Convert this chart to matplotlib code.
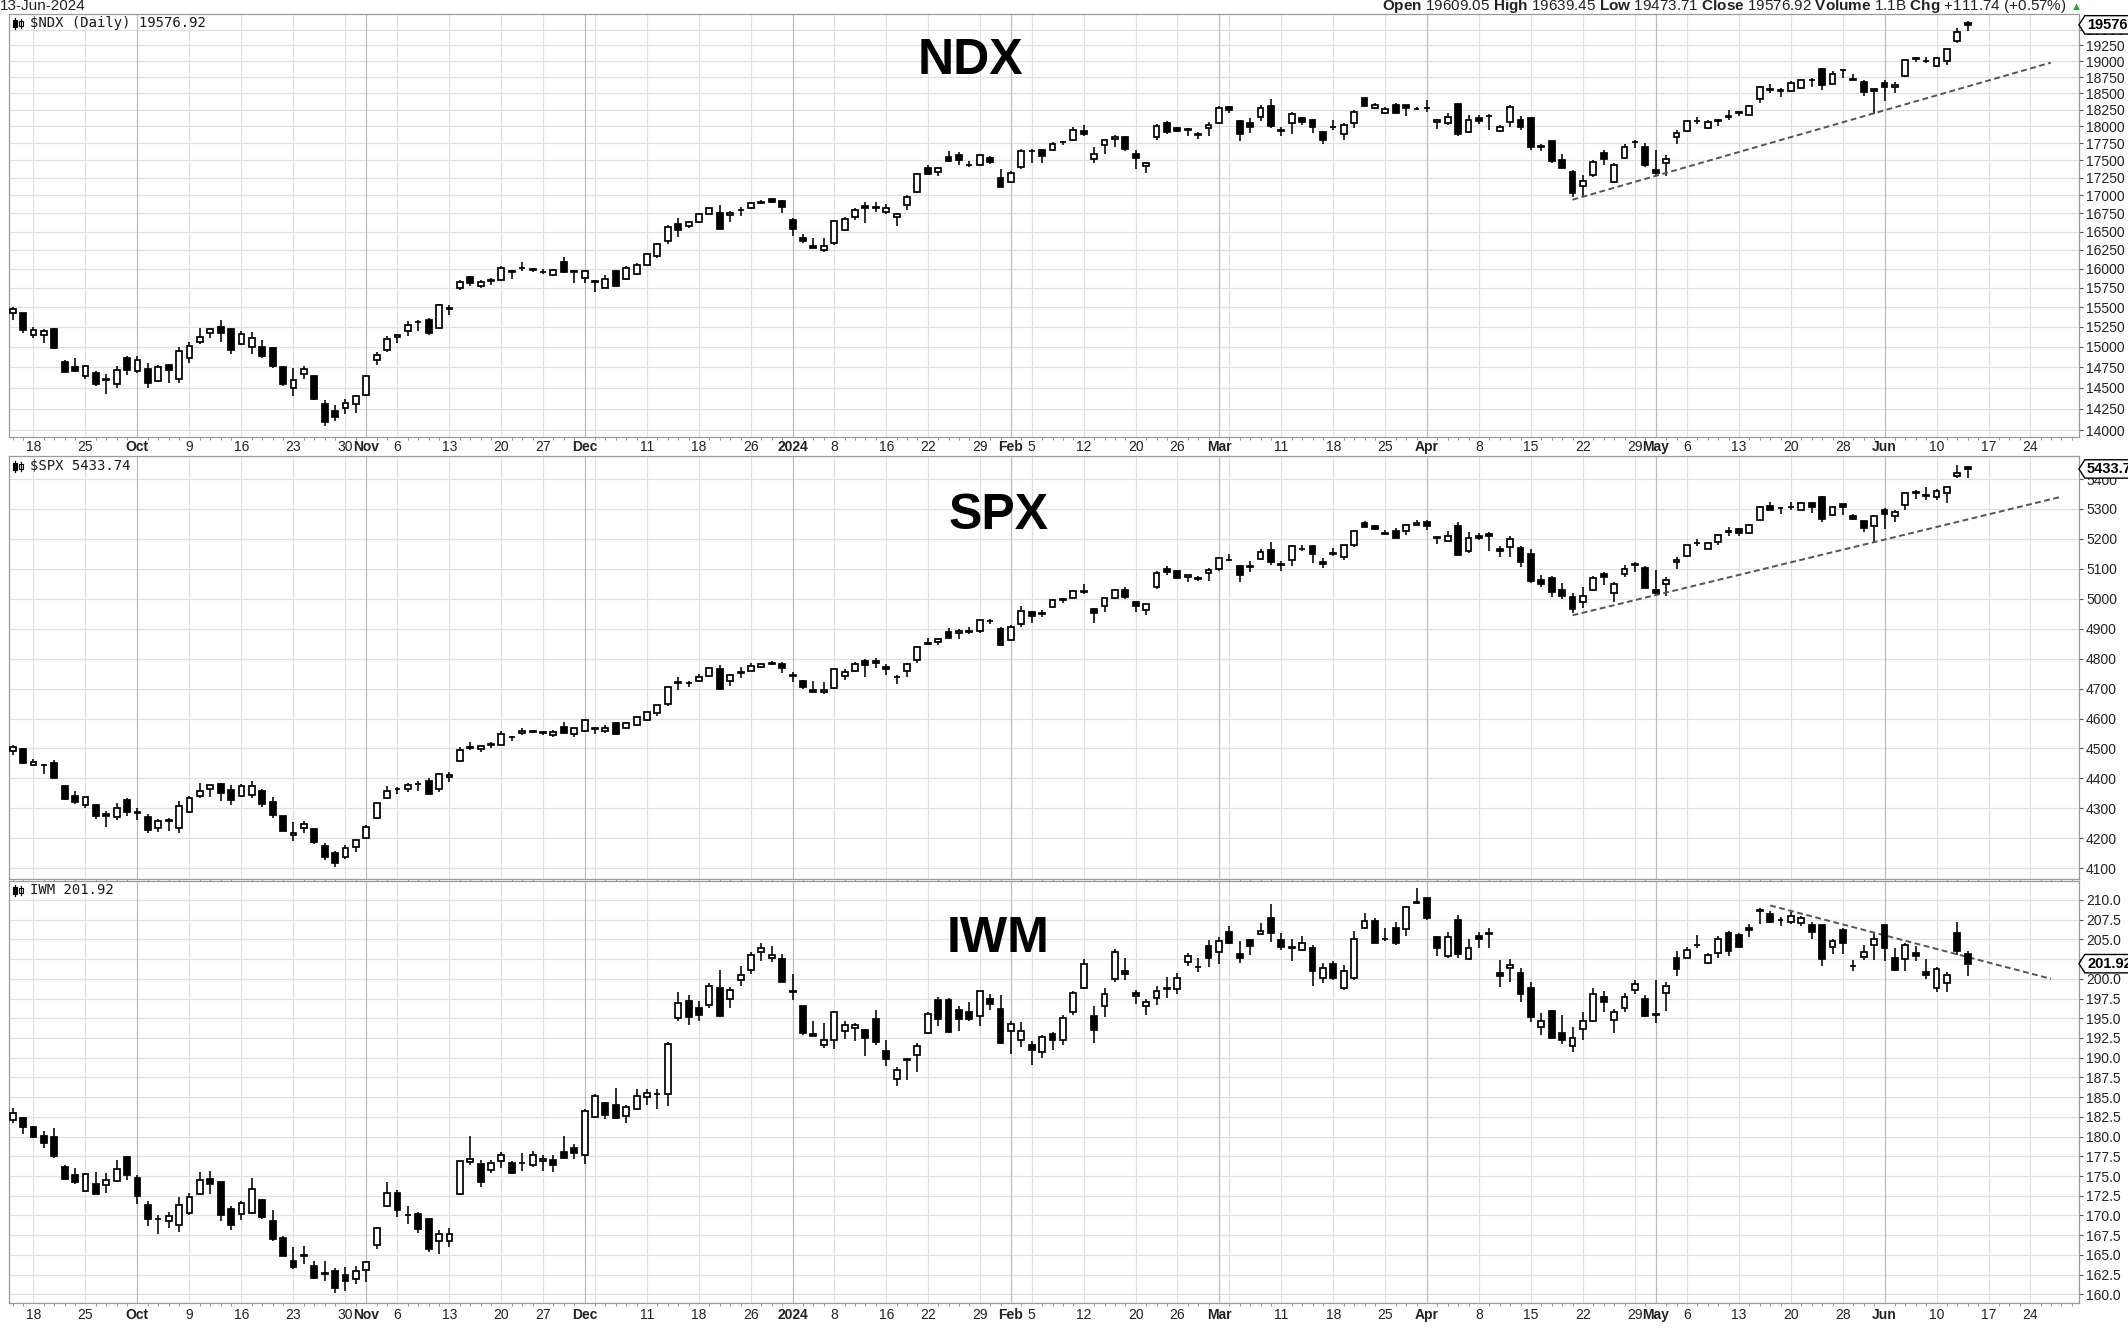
import numpy as np
import pandas as pd
import matplotlib

matplotlib.use('Agg')
import matplotlib.pyplot as plt
from matplotlib.lines import Line2D
from matplotlib.patches import Rectangle
from matplotlib.path import Path
from matplotlib.ticker import NullLocator
from matplotlib.transforms import Affine2D, blended_transform_factory

plt.rcParams['font.family'] = ['Liberation Sans', 'DejaVu Sans']
plt.rcParams['mathtext.fontset'] = 'custom'
plt.rcParams['mathtext.rm'] = 'Liberation Sans'
plt.rcParams['mathtext.bf'] = 'Liberation Sans:bold'

# trading calendar: 14-Sep-2023 .. 13-Jun-2024 traded, empty slots up to 28-Jun-2024
FIRST_DAY = '2023-09-14'
LAST_SLOT = '2024-06-28'
HOLIDAYS = ['2023-11-23', '2023-12-25', '2024-01-01', '2024-01-15',
            '2024-02-19', '2024-03-29', '2024-05-27', '2024-06-19']

# ---------------- $NDX daily OHLC ----------------
ndx_open = [
    15425, 15420, 15150, 15150, 15220, 14810, 14755, 14640, 14680, 14600, 14540, 14860,
    14700, 14730, 14580, 14770, 14610, 14860, 15060, 15170, 15250, 15220, 15030, 14990,
    15000, 14985, 14750, 14490, 14665, 14635, 14300, 14220, 14255, 14300,
    14410, 14830, 14960, 15125, 15190, 15305, 15330, 15240, 15490, 15745, 15885, 15770,
    15840, 15850, 15975, 16010, 15985, 15960, 15920, 16090, 15975,
    15880, 15840, 15745, 15965, 15865, 15930, 16045, 16175, 16375, 16600, 16575, 16625,
    16745, 16755, 16720, 16790, 16820, 16900, 16955, 16915,
    16655, 16405, 16300, 16255, 16340, 16525, 16700, 16850, 16830, 16770, 16700, 16870,
    17045, 17390, 17335, 17550, 17580, 17440, 17430, 17535, 17240,
    17195, 17400, 17640, 17655, 17655, 17770, 17795, 17935, 17520, 17720, 17810, 17845,
    17590, 17415, 17835, 18045, 17970, 17955, 17880, 17980,
    18055, 18290, 18075, 18055, 18140, 18300, 17945, 18045, 18125, 18090, 17920, 17990,
    17880, 18055, 18420, 18280, 18205, 18325, 18315, 18265,
    18275, 18065, 18045, 18330, 17920, 18125, 18155, 17935, 18065, 18090, 18125, 17690,
    17780, 17510, 17330, 17140, 17285, 17610, 17195, 17540, 17765, 17700,
    17365, 17460, 17845, 17930, 18080, 17980, 18085, 18140, 18215, 18175, 18410, 18565,
    18540, 18540, 18585, 18700, 18880, 18645, 18860, 18720, 18675, 18560,
    18650, 18590, 18770, 19040, 19000, 18925, 18995, 19320, 19609.05]
ndx_high = [
    15500, 15430, 15250, 15215, 15240, 14840, 14865, 14775, 14700, 14660, 14760, 14890,
    14880, 14800, 14780, 14790, 15000, 15060, 15230, 15240, 15330, 15235, 15190, 15180,
    15085, 15000, 14755, 14740, 14760, 14640, 14350, 14290, 14360, 14410,
    14655, 14940, 15130, 15160, 15320, 15330, 15365, 15535, 15525, 15850, 15910, 15850,
    15880, 16040, 15985, 16095, 16010, 15990, 15990, 16160, 15985,
    15980, 15845, 15915, 15980, 16040, 16075, 16215, 16350, 16590, 16680, 16650, 16755,
    16830, 16870, 16785, 16840, 16910, 16935, 16970, 16930,
    16680, 16460, 16410, 16410, 16655, 16700, 16820, 16905, 16905, 16880, 16760, 17000,
    17325, 17440, 17400, 17640, 17615, 17485, 17595, 17560, 17370,
    17345, 17670, 17660, 17670, 17765, 17790, 17995, 18020, 17700, 17805, 17870, 17860,
    17650, 17475, 18030, 18080, 17995, 17980, 17910, 18065,
    18305, 18300, 18090, 18125, 18315, 18415, 17995, 18215, 18140, 18115, 17930, 18100,
    18045, 18240, 18450, 18355, 18290, 18350, 18320, 18290,
    18395, 18115, 18205, 18345, 18170, 18165, 18185, 18025, 18315, 18160, 18140, 17735,
    17790, 17595, 17355, 17290, 17510, 17650, 17460, 17745, 17800, 17760,
    17650, 17575, 17950, 18095, 18140, 18095, 18110, 18240, 18230, 18325, 18615, 18640,
    18575, 18685, 18720, 18740, 18895, 18840, 18875, 18790, 18700, 18570,
    18700, 18670, 19020, 19060, 19060, 19060, 19195, 19530, 19639.45]
ndx_low = [
    15340, 15170, 15110, 15050, 14975, 14690, 14690, 14600, 14520, 14420, 14500, 14650,
    14680, 14500, 14570, 14560, 14560, 14800, 15030, 15110, 15060, 14910, 15020, 14910,
    14860, 14740, 14520, 14400, 14600, 14350, 14050, 14100, 14190, 14200,
    14400, 14770, 14940, 15045, 15130, 15190, 15150, 15230, 15400, 15720, 15770, 15740,
    15780, 15840, 15870, 15970, 15960, 15930, 15900, 15940, 15810,
    15810, 15690, 15740, 15765, 15855, 15920, 16030, 16140, 16330, 16430, 16550, 16610,
    16740, 16535, 16630, 16710, 16810, 16880, 16890, 16750,
    16440, 16340, 16270, 16220, 16320, 16510, 16660, 16620, 16775, 16735, 16570, 16800,
    17030, 17295, 17275, 17470, 17440, 17400, 17415, 17445, 17115,
    17170, 17380, 17460, 17460, 17630, 17720, 17780, 17850, 17465, 17600, 17700, 17640,
    17380, 17325, 17800, 17880, 17910, 17860, 17810, 17855,
    18040, 18200, 17780, 17905, 18075, 17980, 17860, 17890, 18020, 17900, 17735, 17945,
    17800, 17975, 18290, 18265, 18180, 18180, 18160, 18240,
    18215, 17960, 18020, 17850, 17900, 18040, 17945, 17920, 17990, 17945, 17650, 17640,
    17460, 17370, 16975, 16990, 17260, 17430, 17170, 17520, 17675, 17410,
    17290, 17280, 17740, 17920, 18030, 17960, 18010, 18090, 18150, 18165, 18350, 18510,
    18450, 18525, 18565, 18600, 18550, 18635, 18730, 18700, 18460, 18180,
    18380, 18510, 18755, 18980, 18975, 18910, 18935, 19290, 19473.71]
ndx_close = [
    15474, 15203, 15210, 15199, 14983, 14694, 14701, 14768, 14546, 14590, 14712, 14715,
    14830, 14560, 14755, 14710, 14945, 15010, 15120, 15225, 15170, 14965, 15160, 15110,
    14885, 14765, 14540, 14595, 14730, 14360, 14090, 14150, 14315, 14395,
    14645, 14900, 15090, 15140, 15275, 15315, 15170, 15525, 15480, 15820, 15815, 15830,
    15845, 16010, 15960, 16015, 15990, 15955, 15980, 15960, 15950,
    15965, 15830, 15865, 15775, 16010, 16055, 16195, 16325, 16565, 16525, 16625, 16735,
    16820, 16540, 16760, 16800, 16890, 16910, 16905, 16835,
    16540, 16368, 16283, 16300, 16640, 16665, 16800, 16830, 16840, 16830, 16735, 16975,
    17300, 17310, 17390, 17485, 17510, 17430, 17580, 17470, 17120,
    17325, 17640, 17630, 17570, 17745, 17765, 17950, 17880, 17590, 17795, 17845, 17670,
    17530, 17460, 18010, 17920, 17930, 17950, 17875, 18025,
    18275, 18240, 17880, 17990, 18280, 18000, 17935, 18190, 18070, 17995, 17800, 17995,
    18015, 18215, 18310, 18315, 18265, 18200, 18270, 18260,
    18280, 18100, 18140, 17880, 18100, 18080, 18160, 17990, 18290, 17990, 17700, 17705,
    17490, 17395, 17037, 17210, 17470, 17525, 17430, 17700, 17775, 17440,
    17321, 17525, 17900, 18080, 18075, 18070, 18100, 18150, 18200, 18300, 18590, 18555,
    18545, 18650, 18700, 18705, 18620, 18790, 18865, 18710, 18520, 18537,
    18598, 18632, 19010, 19030, 18995, 19045, 19185, 19465.18, 19576.92]
NDX_VOLUME = '1.1B'
ndx_trend_x = [150, 196]
ndx_trend_y = [16940, 18975]
ndx_ticks = list(range(14000, 19501, 250))

# ---------------- $SPX daily OHLC ----------------
spx_open = [
    4490, 4498, 4446, 4445, 4452, 4374, 4341, 4310, 4312, 4282, 4270, 4329,
    4285, 4270, 4233, 4260, 4234, 4289, 4340, 4366, 4380, 4360, 4342, 4345, 4357, 4321,
    4273, 4210, 4235, 4232, 4175, 4152, 4139, 4171,
    4201, 4268, 4334, 4364, 4366, 4383, 4391, 4364, 4406, 4459, 4505, 4497, 4510, 4511,
    4538, 4553, 4555, 4554, 4545, 4571, 4549,
    4559, 4564, 4557, 4586, 4569, 4577, 4594, 4618, 4647, 4721, 4720, 4725, 4743, 4764,
    4724, 4753, 4758, 4773, 4786, 4782,
    4745, 4725, 4697, 4690, 4703, 4741, 4759, 4792, 4791, 4772, 4739, 4760, 4796, 4853,
    4856, 4888, 4886, 4888, 4892, 4925, 4899,
    4862, 4916, 4957, 4950, 4973, 4996, 5004, 5026, 4967, 4976, 5004, 5031, 4989, 4964,
    5038, 5100, 5093, 5074, 5067, 5085,
    5098, 5131, 5110, 5109, 5132, 5164, 5114, 5130, 5168, 5176, 5123, 5154, 5139, 5181,
    5254, 5242, 5219, 5228, 5226, 5248,
    5257, 5204, 5194, 5244, 5158, 5211, 5217, 5167, 5172, 5171, 5149, 5064, 5068, 5031,
    5005, 4988, 5028, 5084, 5019, 5084, 5114, 5103,
    5029, 5050, 5123, 5142, 5187, 5168, 5189, 5225, 5234, 5221, 5263, 5310, 5303, 5305,
    5298, 5319, 5340, 5281, 5315, 5278, 5259, 5244,
    5297, 5278, 5314, 5357, 5343, 5341, 5353, 5409, 5441]
spx_high = [
    4511, 4500, 4466, 4449, 4462, 4375, 4357, 4338, 4313, 4292, 4318, 4333,
    4300, 4281, 4265, 4267, 4324, 4340, 4385, 4378, 4385, 4377, 4383, 4393, 4363, 4339,
    4276, 4255, 4259, 4232, 4183, 4156, 4177, 4195,
    4245, 4319, 4374, 4372, 4386, 4391, 4400, 4418, 4421, 4504, 4521, 4511, 4521, 4557,
    4542, 4568, 4560, 4560, 4562, 4588, 4569,
    4599, 4572, 4578, 4590, 4590, 4610, 4623, 4645, 4709, 4738, 4726, 4749, 4769, 4778,
    4748, 4772, 4784, 4785, 4793, 4789,
    4755, 4729, 4726, 4722, 4764, 4765, 4790, 4798, 4802, 4782, 4745, 4785, 4843, 4868,
    4868, 4903, 4898, 4906, 4929, 4931, 4906,
    4911, 4975, 4958, 4964, 4999, 5001, 5030, 5048, 4970, 5003, 5032, 5038, 4993, 4983,
    5094, 5111, 5097, 5080, 5077, 5104,
    5140, 5149, 5114, 5127, 5165, 5190, 5125, 5180, 5180, 5180, 5137, 5170, 5180, 5226,
    5261, 5246, 5229, 5235, 5249, 5264,
    5263, 5208, 5228, 5256, 5222, 5219, 5224, 5178, 5211, 5175, 5168, 5079, 5077, 5052,
    5019, 5038, 5076, 5089, 5057, 5114, 5124, 5110,
    5096, 5073, 5139, 5181, 5200, 5191, 5215, 5239, 5238, 5250, 5311, 5325, 5305, 5325,
    5324, 5323, 5342, 5311, 5315, 5282, 5260, 5280,
    5303, 5298, 5354, 5362, 5375, 5366, 5375, 5448, 5442]
spx_low = [
    4478, 4447, 4442, 4416, 4401, 4329, 4316, 4302, 4265, 4238, 4260, 4274,
    4260, 4216, 4220, 4225, 4219, 4284, 4333, 4338, 4325, 4311, 4338, 4334, 4305, 4269,
    4223, 4190, 4219, 4182, 4127, 4103, 4132, 4153,
    4197, 4266, 4334, 4347, 4355, 4359, 4346, 4353, 4389, 4456, 4495, 4487, 4500, 4510,
    4525, 4545, 4552, 4546, 4538, 4548, 4537,
    4554, 4547, 4551, 4546, 4566, 4575, 4592, 4607, 4643, 4694, 4704, 4721, 4743, 4697,
    4708, 4736, 4758, 4768, 4780, 4751,
    4722, 4700, 4687, 4683, 4700, 4730, 4756, 4740, 4769, 4747, 4714, 4740, 4785, 4844,
    4844, 4865, 4866, 4881, 4887, 4916, 4845,
    4859, 4907, 4918, 4939, 4969, 4987, 5001, 5016, 4920, 4956, 4999, 4999, 4956, 4946,
    5033, 5081, 5068, 5057, 5058, 5061,
    5094, 5127, 5056, 5091, 5128, 5114, 5092, 5108, 5160, 5118, 5102, 5144, 5131, 5172,
    5240, 5229, 5216, 5203, 5213, 5245,
    5229, 5184, 5194, 5146, 5153, 5197, 5160, 5138, 5138, 5107, 5052, 5039, 5007, 4998,
    4954, 4969, 5027, 5047, 4990, 5073, 5089, 5035,
    5013, 5011, 5101, 5140, 5178, 5165, 5180, 5209, 5211, 5217, 5263, 5296, 5283, 5297,
    5295, 5286, 5257, 5278, 5279, 5262, 5222, 5191,
    5234, 5257, 5297, 5335, 5331, 5331, 5320, 5404, 5404]
spx_close = [
    4505, 4450, 4454, 4444, 4402, 4330, 4320, 4337, 4274, 4275, 4300, 4288,
    4288, 4229, 4258, 4258, 4308, 4336, 4358, 4377, 4350, 4327, 4373, 4373, 4314, 4278,
    4224, 4217, 4248, 4186, 4137, 4117, 4167, 4194,
    4237, 4318, 4358, 4365, 4378, 4383, 4347, 4415, 4411, 4496, 4503, 4509, 4514, 4547,
    4538, 4557, 4559, 4551, 4555, 4551, 4568,
    4595, 4569, 4567, 4549, 4585, 4604, 4622, 4644, 4707, 4720, 4719, 4740, 4768, 4698,
    4746, 4755, 4775, 4782, 4783, 4770,
    4743, 4705, 4689, 4697, 4764, 4757, 4783, 4780, 4784, 4766, 4739, 4781, 4840, 4850,
    4865, 4869, 4894, 4891, 4928, 4925, 4846,
    4906, 4959, 4943, 4954, 4995, 4998, 5027, 5022, 4953, 5001, 5030, 5006, 4976, 4982,
    5087, 5089, 5070, 5078, 5070, 5096,
    5137, 5131, 5079, 5105, 5157, 5124, 5117, 5175, 5165, 5150, 5117, 5149, 5179, 5225,
    5241, 5234, 5218, 5204, 5248, 5254,
    5243, 5205, 5211, 5147, 5204, 5202, 5209, 5161, 5199, 5123, 5061, 5051, 5022, 5011,
    4967, 5010, 5070, 5072, 5048, 5100, 5116, 5036,
    5018, 5064, 5128, 5181, 5187, 5188, 5214, 5223, 5221, 5247, 5308, 5297, 5303, 5308,
    5321, 5307, 5268, 5305, 5306, 5267, 5235, 5278,
    5283, 5291, 5354, 5352, 5347, 5361, 5375, 5421, 5433.74]
spx_trend_x = [150, 197]
spx_trend_y = [4945, 5341]
spx_ticks = list(range(4100, 5401, 100))

# ---------------- IWM daily OHLC ----------------
iwm_open = [
    182.10, 182.40, 181.25, 180.10, 179.90, 176.20, 175.15, 173.10, 174.00, 173.90, 174.40, 177.35,
    174.80, 171.35, 169.55, 169.25, 168.85, 170.30, 172.70, 174.60, 174.20, 170.80, 170.20,
    170.30, 172.00, 169.35, 167.15, 164.20, 164.90, 163.60, 162.70, 162.95, 162.40, 162.00,
    163.05, 166.30, 171.25, 172.90, 170.05, 170.20, 169.50, 166.80, 166.75, 172.70, 176.75,
    176.50, 175.80, 176.90, 176.70, 176.60, 176.40, 176.90, 177.05, 178.00, 178.60,
    177.70, 182.50, 184.30, 184.00, 182.60, 183.50, 185.05, 185.35, 185.45, 195.00, 197.25,
    196.30, 196.70, 198.80, 197.40, 199.85, 201.15, 203.45, 202.65, 202.45,
    198.45, 196.50, 193.00, 191.65, 192.30, 193.40, 193.75, 193.55, 194.95, 190.80, 187.25,
    189.75, 190.30, 193.15, 197.35, 197.35, 196.05, 195.85, 195.25, 197.45, 196.20,
    193.35, 192.20, 191.55, 190.70, 193.05, 192.30, 195.85, 198.80, 195.25, 196.55, 200.00,
    201.05, 198.20, 196.60, 197.60, 198.75, 198.65, 202.10, 201.45, 204.10,
    203.35, 205.95, 203.20, 204.90, 205.65, 207.65, 204.90, 203.95, 203.70, 203.90, 200.10,
    201.90, 198.80, 200.10, 206.40, 207.35, 205.00, 206.40, 206.30, 209.70,
    210.20, 205.25, 202.85, 207.50, 202.50, 205.45, 205.70, 200.70, 201.35, 200.70, 198.80,
    193.90, 195.90, 193.15, 191.50, 193.65, 194.65, 197.65, 194.75, 196.30, 198.60, 197.50,
    195.55, 198.20, 202.70, 202.70, 204.30, 202.05, 203.30, 205.75, 205.50, 206.50, 208.65,
    208.25, 207.40, 207.20, 207.10, 206.85, 206.85, 204.05, 206.25, 201.60, 202.80, 204.25,
    206.85, 202.60, 202.50, 203.30, 200.90, 198.80, 199.45, 205.80, 203.15]
iwm_high = [
    183.65, 182.50, 181.35, 180.75, 181.10, 176.40, 176.00, 175.35, 175.50, 175.35, 177.05, 177.55,
    175.15, 171.85, 170.10, 170.40, 172.40, 172.90, 175.50, 175.65, 174.30, 171.15, 171.85,
    174.80, 172.10, 170.75, 167.35, 166.00, 166.10, 164.20, 164.20, 163.35, 163.45, 163.60,
    164.20, 168.50, 174.20, 173.25, 171.15, 170.50, 169.60, 168.20, 168.40, 176.85, 180.10,
    177.05, 177.05, 178.00, 176.90, 177.90, 178.20, 177.60, 177.70, 180.10, 179.00,
    183.50, 185.35, 184.40, 186.20, 184.00, 186.00, 186.00, 186.00, 192.00, 198.30, 197.90,
    197.15, 199.50, 201.15, 198.90, 201.65, 203.45, 204.50, 204.20, 203.10,
    200.60, 196.60, 194.60, 194.45, 195.90, 194.70, 194.40, 193.65, 196.10, 192.30, 188.85,
    189.95, 191.85, 195.75, 197.65, 197.60, 196.60, 197.05, 198.50, 198.10, 197.95,
    194.60, 194.50, 192.10, 192.85, 193.25, 195.35, 198.50, 202.50, 196.60, 198.85, 203.75,
    202.70, 198.60, 197.45, 199.05, 200.20, 200.75, 203.25, 202.70, 204.95,
    205.25, 206.70, 204.80, 205.05, 207.05, 209.45, 205.85, 205.00, 205.45, 204.30, 201.95,
    202.30, 201.75, 206.10, 208.40, 207.65, 206.50, 207.25, 209.25, 211.50,
    210.30, 205.45, 205.90, 208.05, 205.05, 205.95, 206.40, 202.40, 202.45, 201.35, 199.65,
    195.70, 196.05, 195.45, 193.90, 195.80, 198.80, 198.45, 196.20, 198.20, 199.90, 198.00,
    199.85, 199.55, 203.50, 204.05, 205.50, 203.30, 205.40, 206.00, 205.75, 207.00, 209.00,
    208.65, 207.80, 208.45, 207.90, 207.20, 206.85, 205.10, 206.45, 202.40, 204.25, 205.75,
    206.85, 203.85, 204.50, 204.15, 202.45, 201.45, 200.90, 207.20, 203.50]
iwm_low = [
    181.70, 180.30, 179.80, 178.60, 177.25, 174.50, 174.00, 172.95, 172.70, 172.85, 174.30, 174.50,
    171.45, 168.70, 167.60, 168.40, 167.90, 170.10, 172.60, 172.70, 169.25, 168.10, 169.40,
    170.20, 169.50, 166.80, 164.85, 163.15, 163.80, 162.00, 161.70, 160.20, 160.40, 161.35,
    161.60, 165.70, 171.15, 169.75, 168.90, 167.80, 165.40, 165.15, 166.00, 172.60, 176.40,
    173.55, 175.35, 176.05, 175.30, 175.65, 176.10, 175.60, 175.55, 177.15, 177.15,
    176.55, 182.40, 182.20, 182.20, 181.70, 183.35, 184.05, 183.55, 183.85, 194.70, 194.20,
    194.70, 196.30, 195.15, 196.30, 199.05, 200.60, 202.30, 202.15, 199.55,
    197.35, 192.90, 192.75, 191.25, 191.15, 192.40, 192.10, 190.20, 191.65, 188.95, 186.45,
    187.15, 188.20, 192.95, 194.00, 193.15, 193.35, 194.70, 194.00, 196.00, 191.75,
    190.45, 191.35, 189.05, 189.90, 190.95, 191.65, 195.35, 198.70, 191.90, 195.15, 199.55,
    199.90, 196.80, 195.35, 196.70, 197.55, 198.10, 201.60, 200.80, 201.45,
    201.90, 204.40, 201.95, 203.00, 205.50, 204.70, 203.65, 202.30, 203.55, 199.05, 199.50,
    199.80, 198.60, 199.90, 206.30, 204.50, 204.80, 204.30, 205.45, 209.45,
    207.45, 202.85, 202.65, 202.65, 202.40, 203.95, 203.85, 198.95, 199.60, 197.05, 194.50,
    192.85, 192.40, 191.70, 190.70, 192.30, 194.50, 195.85, 193.10, 195.80, 198.10, 195.15,
    194.45, 195.90, 200.40, 202.60, 203.85, 201.85, 202.70, 202.90, 203.95, 205.30, 207.00,
    207.05, 206.65, 206.90, 206.75, 205.00, 201.65, 203.15, 203.15, 201.05, 202.40, 202.40,
    202.30, 201.05, 201.05, 202.20, 200.00, 198.30, 198.30, 203.00, 200.30]
iwm_close = [
    183.05, 181.15, 179.90, 179.15, 177.50, 174.60, 174.20, 175.20, 172.75, 174.45, 175.90, 175.15,
    172.50, 169.60, 169.60, 169.90, 171.35, 172.30, 174.45, 174.00, 170.10, 168.85, 171.55,
    173.40, 169.75, 167.05, 164.90, 163.50, 164.95, 162.10, 162.60, 160.75, 161.70, 162.95,
    164.10, 168.35, 172.90, 170.65, 170.10, 168.30, 165.70, 167.65, 167.65, 176.85, 177.15,
    174.20, 176.70, 177.70, 175.35, 176.65, 177.70, 177.10, 176.40, 177.25, 177.95,
    183.25, 185.15, 182.70, 182.40, 183.80, 185.15, 185.55, 185.40, 191.70, 196.95, 195.10,
    195.45, 199.15, 195.25, 198.60, 200.50, 203.00, 203.85, 203.00, 199.65,
    198.35, 193.15, 192.80, 192.30, 195.75, 194.10, 194.10, 192.50, 192.05, 189.80, 188.40,
    189.80, 191.50, 195.55, 194.85, 193.25, 194.95, 194.95, 198.45, 196.85, 191.85,
    194.30, 193.35, 191.00, 192.60, 192.20, 195.00, 198.20, 201.90, 193.45, 198.10, 203.45,
    200.60, 197.80, 197.05, 198.45, 198.80, 200.10, 202.85, 201.50, 202.65,
    204.80, 204.50, 202.65, 204.20, 206.00, 205.80, 204.05, 204.00, 204.60, 200.95, 201.35,
    200.05, 201.05, 205.10, 207.35, 204.60, 205.05, 204.50, 209.05, 209.60,
    207.75, 203.90, 205.25, 203.15, 203.90, 205.10, 205.75, 200.30, 201.75, 198.10, 195.20,
    194.60, 192.50, 192.30, 192.55, 194.65, 198.10, 197.10, 195.80, 197.65, 199.35, 195.25,
    195.45, 199.10, 201.20, 203.70, 204.25, 203.00, 205.10, 203.55, 204.05, 206.15, 208.70,
    207.20, 207.45, 207.90, 207.75, 205.95, 202.50, 204.80, 204.50, 201.65, 203.45, 205.10,
    203.85, 201.15, 204.25, 202.90, 200.50, 201.20, 200.50, 203.55, 201.92]
iwm_trend_x = [169, 196]
iwm_trend_y = [209.3, 200.0]
iwm_ticks = [160 + 2.5 * k for k in range(21)]

# ---------------- layout (pixels of the 2128x1339 picture) ----------------
W, H = 2128, 1339
LEFT, RIGHT = 9, 2079
XLIM = (-0.35, 198.7)


def add_panel(fig, top, bottom):
    return fig.add_axes([LEFT / W, 1 - bottom / H, (RIGHT - LEFT) / W, (bottom - top) / H])


def calendar():
    days = pd.bdate_range(FIRST_DAY, LAST_SLOT, freq='C', holidays=HOLIDAYS)
    weeks, months, pos, txt, bold = [], [], [], [], []
    last_month = -99
    for i in range(1, len(days)):
        d, prev = days[i], days[i - 1]
        if d.month != prev.month:
            months.append(i)
            last_month = i
            pos.append(i)
            txt.append(str(d.year) if d.month == 1 else d.strftime('%b'))
            bold.append(True)
        elif d.isocalendar()[1] != prev.isocalendar()[1]:
            weeks.append(i)
            if i - last_month > 1:   # too close to a month label -> hidden
                pos.append(i)
                txt.append(str(d.day))
                bold.append(False)
    return len(days), weeks, months, (pos, txt, bold)


def draw_candles(ax, o, h, l, c):
    o, h, l, c = (np.asarray(v, dtype=float) for v in (o, h, l, c))
    x = np.arange(len(c))
    ax.vlines(x, l, h, color='black', lw=1.15, zorder=3)
    up = c >= o
    lo = np.minimum(o, c)
    hgt = np.abs(c - o)
    for mask, face in ((up, 'white'), (~up, 'black')):
        ax.bar(x[mask], hgt[mask], bottom=lo[mask], width=0.56, facecolor=face,
               edgecolor='black', linewidth=1.25, zorder=4)


def tag_box(x0, y0, width, height, mutation_size):
    # rectangle with a small left-pointing notch, like the last-price tags
    pad = 0.15 * mutation_size
    x0, y0 = x0 - pad, y0 - pad
    x1, y1 = x0 + width + 2 * pad, y0 + height + 2 * pad
    tip = (y1 - y0) * 0.32
    return Path([(x0, y0), (x1, y0), (x1, y1), (x0, y1), (x0 - tip, (y0 + y1) / 2), (x0, y0)],
                closed=True)


def style_panel(ax, n_slots, weeks, months, ticks, yticks, ylabels, show_x, xpad):
    ax.set_xlim(*XLIM)
    for i in weeks:
        ax.axvline(i, color='#e0e0e0', lw=0.9, zorder=0.5)
    for i in months:
        ax.axvline(i, color='#bcbcbc', lw=0.9, zorder=0.6)
    ax.set_yticks(yticks)
    ax.set_yticklabels(ylabels)
    ax.yaxis.set_minor_locator(NullLocator())
    ax.grid(axis='y', color='#e0e0e0', lw=0.9)
    ax.set_axisbelow(True)

    pos, txt, bold = ticks
    ax.set_xticks(pos)
    if show_x:
        ax.set_xticklabels(txt)
        for lab, b in zip(ax.get_xticklabels(), bold):
            if b:
                lab.set_fontweight('bold')
                lab.set_color('black')
    else:
        ax.set_xticklabels([])
    ax.set_xticks(np.arange(n_slots), minor=True)
    ax.tick_params(axis='x', which='major', length=0, pad=xpad, labelsize=10, labelcolor='#222222')
    ax.tick_params(axis='x', which='minor', length=2.5, width=0.7, color='#999999', direction='out')

    ax.yaxis.tick_right()
    ax.tick_params(axis='y', which='major', length=3, width=0.8, color='#555555', pad=2,
                   labelsize=10, labelcolor='#222222')
    for s in ax.spines.values():
        s.set_color('#9a9a9a')
        s.set_linewidth(0.9)


def price_tag(ax, value, text):
    tr = blended_transform_factory(ax.transAxes, ax.transData)
    ax.text(1 + 8 / (RIGHT - LEFT), value, text, transform=tr, ha='left', va='center',
            fontsize=10.5, fontweight='bold', color='black', clip_on=False, zorder=10,
            bbox=dict(boxstyle=tag_box, fc='white', ec='black', lw=1.0))


def legend_icon(fig, px, x, y):
    for dx, top, bot, face in ((-3, -3.5, 3.5, 'black'), (3, -2.5, 2.5, 'white')):
        fig.add_artist(Line2D([x + dx, x + dx], [y + top - 2, y + bot + 2], transform=px,
                              color='black', lw=0.9))
        fig.add_artist(Rectangle((x + dx - 1.6, y + top), 3.2, bot - top, transform=px,
                                 fc=face, ec='black', lw=0.8))


def main():
    for arr in (ndx_open, ndx_high, ndx_low, ndx_close, spx_open, spx_high, spx_low, spx_close,
                iwm_open, iwm_high, iwm_low, iwm_close):
        assert len(arr) == 189, len(arr)

    n_slots, weeks, months, ticks = calendar()

    fig = plt.figure(figsize=(W / 100, H / 100), dpi=100, facecolor='white')
    px = Affine2D().scale(1 / W, -1 / H).translate(0, 1) + fig.transFigure

    ax1 = add_panel(fig, 13.6, 437)
    ax2 = add_panel(fig, 456, 879)
    ax3 = add_panel(fig, 881, 1303)

    # NDX (log scale)
    ax1.set_yscale('log')
    draw_candles(ax1, ndx_open, ndx_high, ndx_low, ndx_close)
    ax1.plot(ndx_trend_x, ndx_trend_y, ls=(0, (3, 1.8)), color='#555555', lw=1.4, zorder=3.5)
    ax1.set_ylim(13920, 19760)
    style_panel(ax1, n_slots, weeks, months, ticks, ndx_ticks, [str(t) for t in ndx_ticks], True, 2)

    # SPX
    draw_candles(ax2, spx_open, spx_high, spx_low, spx_close)
    ax2.plot(spx_trend_x, spx_trend_y, ls=(0, (3, 1.8)), color='#555555', lw=1.4, zorder=3.5)
    ax2.set_ylim(4064, 5477)
    style_panel(ax2, n_slots, weeks, months, ticks, spx_ticks, [str(t) for t in spx_ticks], False, 2)

    # IWM
    draw_candles(ax3, iwm_open, iwm_high, iwm_low, iwm_close)
    ax3.plot(iwm_trend_x, iwm_trend_y, ls=(0, (3, 1.8)), color='#555555', lw=1.4, zorder=3.5)
    ax3.set_ylim(158.9, 212.4)
    style_panel(ax3, n_slots, weeks, months, ticks, iwm_ticks, [f'{t:.1f}' for t in iwm_ticks], True, 3.5)

    price_tag(ax1, ndx_close[-1], f'{ndx_close[-1]:.2f}')
    price_tag(ax2, spx_close[-1], f'{spx_close[-1]:.2f}')
    price_tag(ax3, iwm_close[-1], f'{iwm_close[-1]:.2f}')

    # big symbol names
    for name, (x, y) in (('NDX', (970, 61)), ('SPX', (999, 516)), ('IWM', (998, 939))):
        fig.text(x / W, 1 - y / H, name, ha='center', va='center', fontsize=36,
                 fontweight='bold', color='black')

    # legends in the top-left corner of each panel
    legends = ((f'$NDX (Daily) {ndx_close[-1]:.2f}', 23),
               (f'$SPX {spx_close[-1]:.2f}', 466),
               (f'IWM {iwm_close[-1]:.2f}', 890))
    for text, y in legends:
        legend_icon(fig, px, 18, y)
        fig.text(30 / W, 1 - y / H, text, ha='left', va='center', fontsize=10,
                 family='DejaVu Sans Mono', color='#1a1a1a')

    # header line
    chg = ndx_close[-1] - ndx_close[-2]
    pct = chg / ndx_close[-2] * 100
    header = (f'$\\mathbf{{Open}}$ {ndx_open[-1]:.2f} $\\mathbf{{High}}$ {ndx_high[-1]:.2f} '
              f'$\\mathbf{{Low}}$ {ndx_low[-1]:.2f} $\\mathbf{{Close}}$ {ndx_close[-1]:.2f} '
              f'$\\mathbf{{Volume}}$ {NDX_VOLUME} $\\mathbf{{Chg}}$ {chg:+.2f} ({pct:+.2f}%)')
    base = 1 - 9.6 / H
    fig.text(0 / W, base, '13-Jun-2024', ha='left', va='baseline', fontsize=11, color='#222222')
    fig.text(2067 / W, base, header, ha='right', va='baseline', fontsize=11, color='#222222')
    fig.text(2071 / W, base, '\u25b2', ha='left', va='baseline', fontsize=8, color='#2e9e3e')

    fig.savefig('out.png', dpi=100, facecolor='white')


if __name__ == '__main__':
    main()
